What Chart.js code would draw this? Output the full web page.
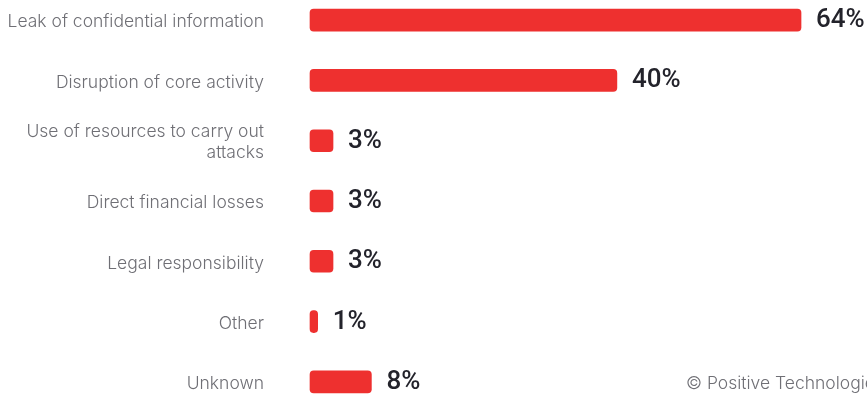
<!DOCTYPE html>
<html>
<head>
<meta charset="utf-8">
<script src="https://cdn.jsdelivr.net/npm/chart.js@4"></script>
<style>
  html, body { margin: 0; padding: 0; background: #ffffff; overflow: hidden; }
  #wrap { width: 867px; height: 397px; position: relative; overflow: hidden; }
  #c { position: absolute; left: 0; top: -10px; }
</style>
</head>
<body>
<div id="wrap"><canvas id="c" width="867" height="422"></canvas></div>
<script>
// Consequences of attacks, share of incidents (%)
const categories = [
  "Leak of confidential information",
  "Disruption of core activity",
  ["Use of resources to carry out", "attacks"],
  "Direct financial losses",
  "Legal responsibility",
  "Other",
  "Unknown"
];
const shares = [64, 40, 3, 3, 3, 1, 8];
const valueLabels = ["64%", "40%", "3%", "3%", "3%", "1%", "8%"];
const creditText = "© Positive Technologies";

const BAR_RED = "#EE302F";
const LABEL_GREY = "#6F6F75";
const VALUE_DARK = "#23232B";
const LABEL_FONT = "Inter, 'Open Sans', sans-serif";

// Bold percentage text to the right of each bar, plus the credit line
const valueLabelPlugin = {
  id: "valueLabels",
  afterDatasetsDraw(chart) {
    const ctx = chart.ctx;
    const meta = chart.getDatasetMeta(0);
    ctx.save();
    ctx.font = "500 26px Roboto, sans-serif";
    ctx.fillStyle = VALUE_DARK;
    ctx.textAlign = "left";
    ctx.textBaseline = "middle";
    meta.data.forEach((bar, i) => {
      ctx.fillText(valueLabels[i], bar.x + 15, bar.y + 0.5);
    });
    ctx.font = "300 17.5px " + LABEL_FONT;
    ctx.fillStyle = LABEL_GREY;
    ctx.fillText(creditText, 686, meta.data[meta.data.length - 1].y + 2);
    ctx.restore();
  }
};

new Chart(document.getElementById("c"), {
  type: "bar",
  data: {
    labels: categories,
    datasets: [{
      data: shares,
      backgroundColor: BAR_RED,
      borderRadius: 4,
      borderSkipped: false,
      barThickness: 22,
      minBarLength: 5,
      clip: false
    }]
  },
  options: {
    indexAxis: "y",
    responsive: false,
    animation: false,
    devicePixelRatio: 1,
    layout: { padding: 0 },
    plugins: {
      legend: { display: false },
      tooltip: { enabled: false }
    },
    scales: {
      x: {
        min: 0,
        max: 72.6,
        display: false,
        grid: { display: false }
      },
      y: {
        border: { display: false },
        grid: { display: false, drawTicks: false },
        ticks: {
          padding: 46,
          labelOffset: 2,
          color: LABEL_GREY,
          font: { family: LABEL_FONT, size: 17.5, weight: 300, lineHeight: 1.2 },
          crossAlign: "near"
        },
        afterFit(scale) {
          // fixed label column; categories fill the full height
          scale.width = 310;
          scale.paddingTop = 0;
          scale.paddingBottom = 0;
        }
      }
    }
  },
  plugins: [valueLabelPlugin]
});
</script>
</body>
</html>
